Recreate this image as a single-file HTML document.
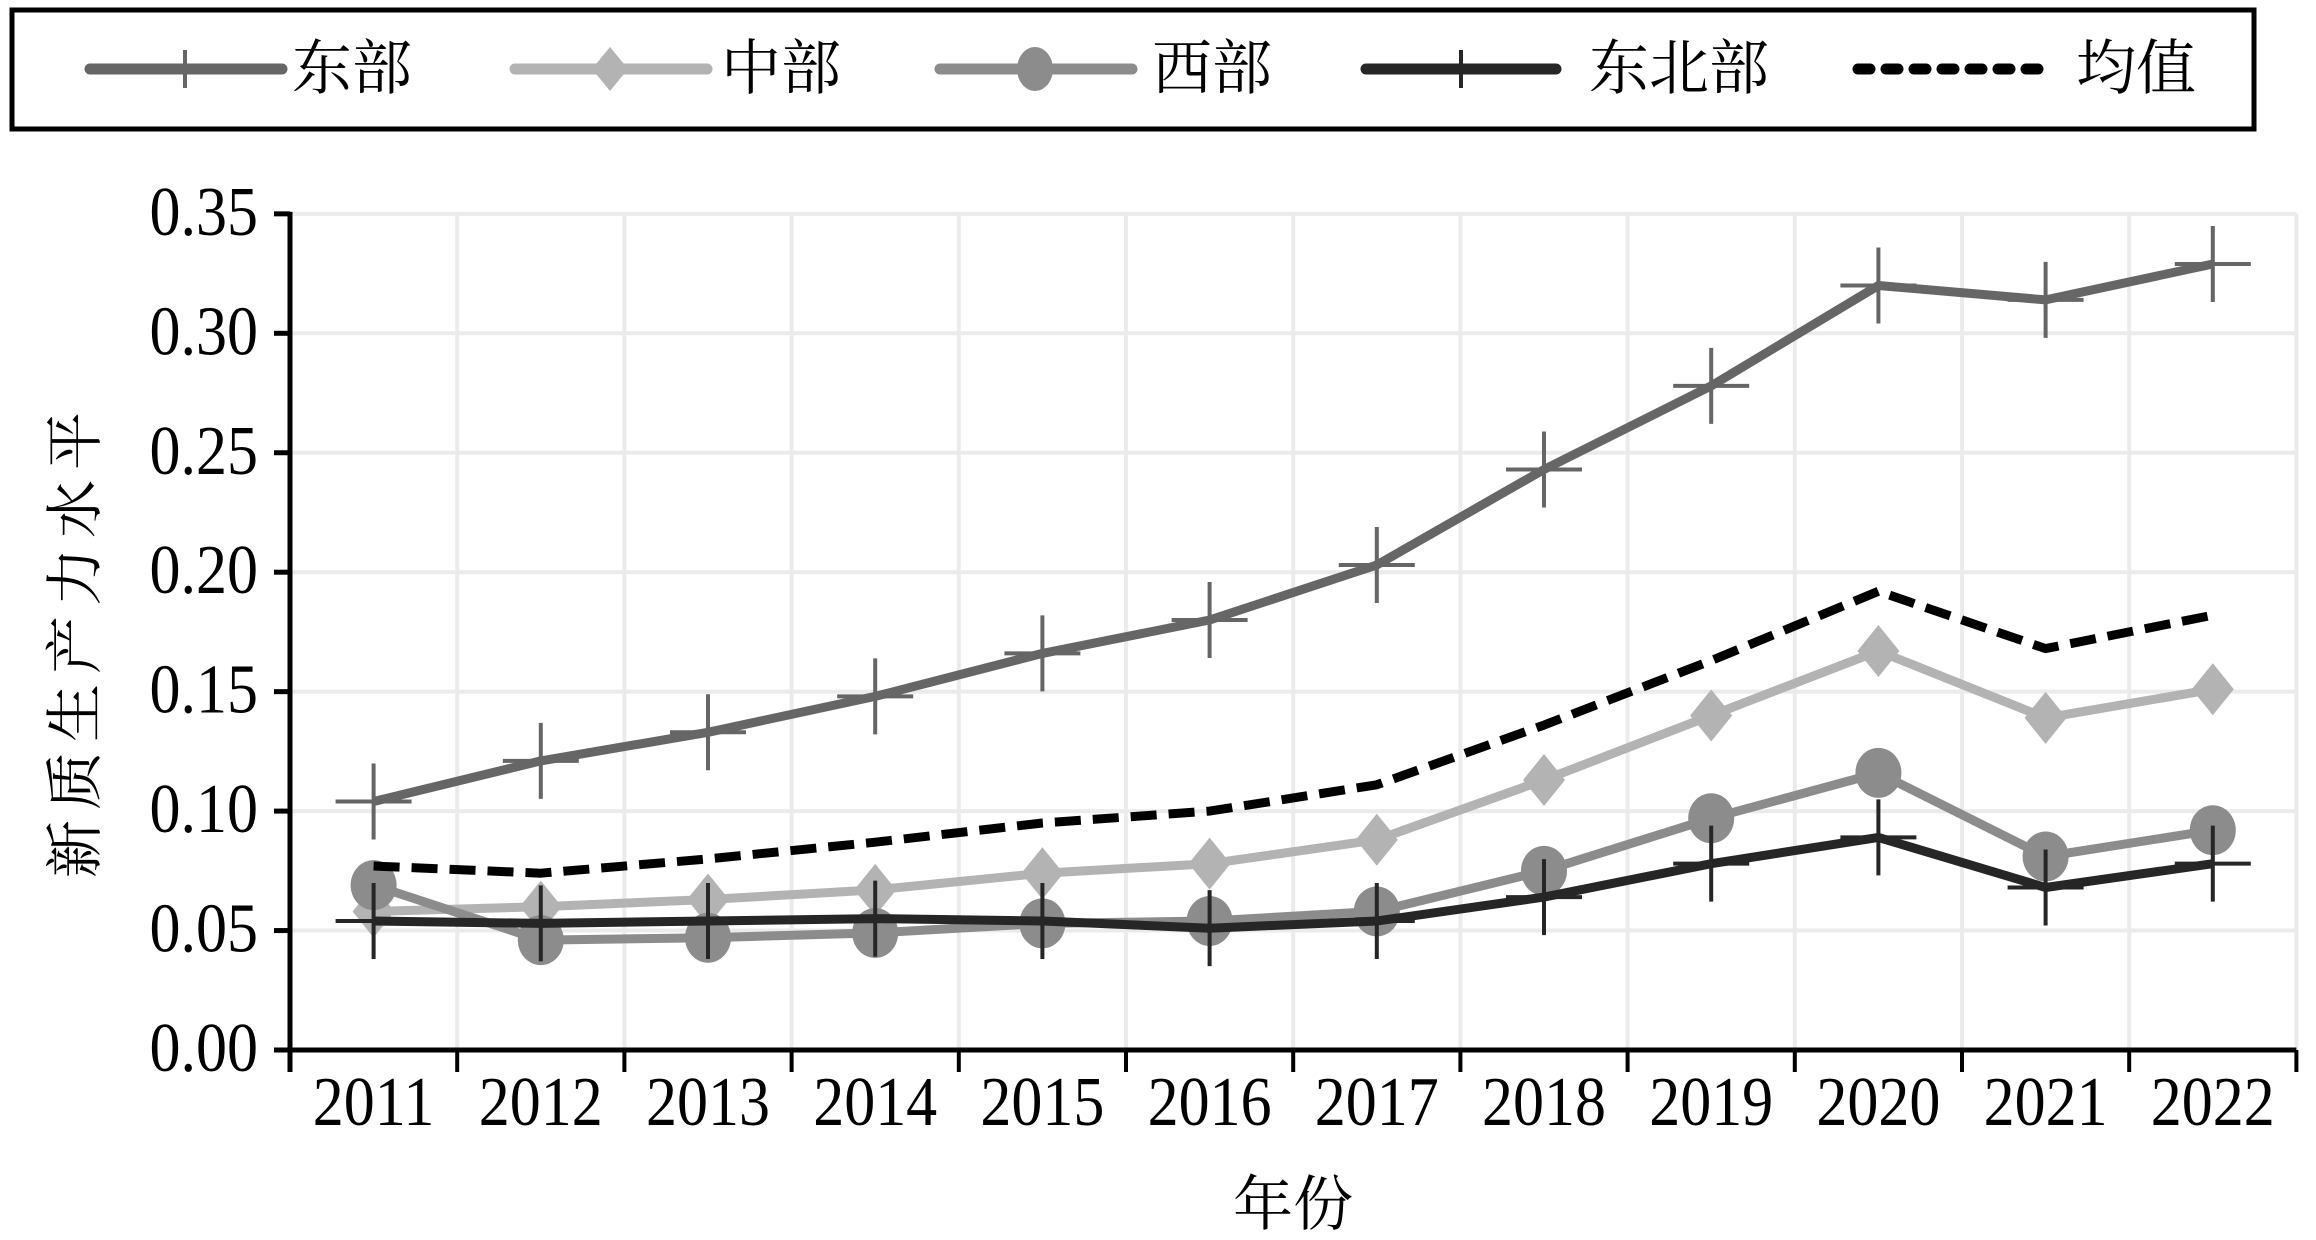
<!DOCTYPE html>
<html><head><meta charset="utf-8"><style>
html,body{margin:0;padding:0;background:#fff;}
svg{display:block;}
.t{font-family:"Liberation Serif","Noto Serif CJK SC",serif;fill:#000;}
.c{font-family:"Liberation Serif","Noto Serif CJK SC",serif;fill:#000;}
</style></head><body>
<svg id="s" width="2316" height="1240" viewBox="0 0 2316 1240" xmlns="http://www.w3.org/2000/svg">
<rect x="0" y="0" width="2316" height="1240" fill="#fff"/>
<rect x="12" y="10" width="2242" height="119" fill="#fff" stroke="#000" stroke-width="5"/>
<line x1="90" y1="69" x2="282" y2="69" stroke="#666" stroke-width="11" stroke-linecap="round"/>
<line x1="185" y1="50" x2="185" y2="88" stroke="#666" stroke-width="4"/>
<text class="c" x="292" y="89" font-size="60">东部</text>
<line x1="515" y1="69" x2="707" y2="69" stroke="#b3b3b3" stroke-width="11" stroke-linecap="round"/>
<polygon points="610,47 628,69 610,91 592,69" fill="#b3b3b3"/>
<text class="c" x="721" y="89" font-size="60">中部</text>
<line x1="940" y1="69" x2="1132" y2="69" stroke="#8c8c8c" stroke-width="11" stroke-linecap="round"/>
<ellipse cx="1035" cy="69" rx="18" ry="22" fill="#8c8c8c"/>
<text class="c" x="1152" y="89" font-size="60">西部</text>
<line x1="1366" y1="69" x2="1556" y2="69" stroke="#262626" stroke-width="11" stroke-linecap="round"/>
<line x1="1461" y1="50" x2="1461" y2="88" stroke="#262626" stroke-width="4"/>
<text class="c" x="1589" y="89" font-size="60">东北部</text>
<line x1="1858" y1="69" x2="2050" y2="69" stroke="#000" stroke-width="11" stroke-linecap="round" stroke-dasharray="12 16"/>
<text class="c" x="2076" y="89" font-size="60">均值</text>
<g id="grid"></g>
<g id="series"></g>
<g id="axes"></g>
<g id="ylab"></g>
<g id="xlab"></g>
<text class="c" font-size="58" letter-spacing="10" transform="translate(95,640) rotate(-90)" text-anchor="middle">新质生产力水平</text>
<text class="c" x="1293" y="1225" font-size="60" text-anchor="middle">年份</text>
</svg>
<script>
var NS="http://www.w3.org/2000/svg";
function el(p,t,a,txt){var e=document.createElementNS(NS,t);for(var k in a)e.setAttribute(k,a[k]);if(txt!==undefined)e.textContent=txt;document.getElementById(p).appendChild(e);return e;}
var X0=290,Y0=1050,K=2389,ST=167.2;var X1=X0+ST*12;
function X(i){return X0+ST/2+ST*i;}
function Y(v){return Y0-v*K;}
for(var j=1;j<=7;j++){el('grid','line',{x1:X0,x2:X1,y1:Y(j*0.05),y2:Y(j*0.05),stroke:'#ebebeb','stroke-width':4});}
for(var i=1;i<=12;i++){var x=X0+ST*i;el('grid','line',{x1:x,x2:x,y1:Y(0.35),y2:Y0,stroke:'#ebebeb','stroke-width':4});}
var E=[0.104,0.121,0.133,0.148,0.166,0.180,0.203,0.243,0.278,0.320,0.314,0.329];
var M=[0.058,0.060,0.063,0.067,0.074,0.078,0.088,0.113,0.140,0.167,0.139,0.151];
var W=[0.069,0.046,0.047,0.049,0.053,0.054,0.058,0.075,0.097,0.116,0.081,0.092];
var NE=[0.054,0.053,0.054,0.055,0.054,0.051,0.054,0.064,0.078,0.089,0.068,0.078];
var A=[0.077,0.074,0.080,0.087,0.095,0.100,0.111,0.136,0.163,0.192,0.168,0.182];
function pts(d){return d.map(function(v,i){return X(i).toFixed(1)+','+Y(v).toFixed(1);}).join(' ');}
function line(d,c,extra){var a={points:pts(d),fill:'none',stroke:c,'stroke-width':9,'stroke-linejoin':'round'};for(var k in extra)a[k]=extra[k];el('series','polyline',a);}
function plus(d,c){d.forEach(function(v,i){var x=X(i),y=Y(v);el('series','line',{x1:x,x2:x,y1:y-38,y2:y+38,stroke:c,'stroke-width':4});el('series','line',{x1:x-38,x2:x+38,y1:y,y2:y,stroke:c,'stroke-width':4});});}
line(E,'#666');plus(E,'#666');
line(M,'#b3b3b3');M.forEach(function(v,i){var x=X(i),y=Y(v);el('series','polygon',{points:x+','+(y-26)+' '+(x+21)+','+y+' '+x+','+(y+26)+' '+(x-21)+','+y,fill:'#b3b3b3'});});
line(W,'#8c8c8c');W.forEach(function(v,i){el('series','ellipse',{cx:X(i),cy:Y(v),rx:23,ry:25,fill:'#8c8c8c'});});
line(NE,'#262626');plus(NE,'#262626');
line(A,'#000',{'stroke-dasharray':'26 12'});
el('axes','line',{x1:X0,x2:X0,y1:Y(0.35)-2,y2:Y0+22,stroke:'#000','stroke-width':5});
el('axes','line',{x1:X0-16,x2:X1,y1:Y0,y2:Y0,stroke:'#000','stroke-width':5});
for(var j=0;j<=7;j++){var y=Y(j*0.05);el('axes','line',{x1:X0-16,x2:X0,y1:y,y2:y,stroke:'#000','stroke-width':5});
 el('ylab','text',{'class':'t',x:258,y:0,'font-size':62,'text-anchor':'end',transform:'translate(0,'+(y+21)+') scale(1,1.12)'},(j*0.05).toFixed(2));}
for(var i=0;i<=12;i++){var x=X0+ST*i;el('axes','line',{x1:x,x2:x,y1:Y0,y2:Y0+22,stroke:'#000','stroke-width':4});}
for(var i=0;i<12;i++){el('xlab','text',{'class':'t',x:X(i),y:0,'font-size':62,'text-anchor':'middle',transform:'translate(0,1125) scale(1,1.12)'},String(2011+i));}
</script>
</body></html>
